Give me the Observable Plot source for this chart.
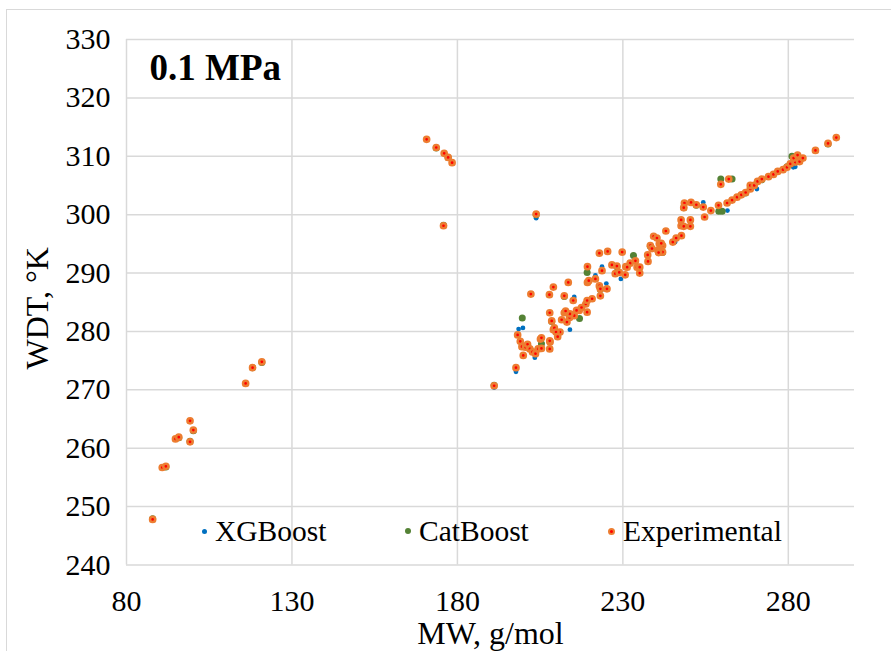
<!DOCTYPE html>
<html>
<head>
<meta charset="utf-8">
<script src="https://cdn.jsdelivr.net/npm/d3@7"></script>
<script src="https://cdn.jsdelivr.net/npm/@observablehq/plot@0.6"></script>
<style>
  body { margin: 0; background: #fff; }
  #wrap { position: relative; width: 891px; height: 651px; overflow: hidden;
          font-family: "Liberation Serif", "Times New Roman", serif; }
  #border { position: absolute; left: 6px; top: 9px; width: 900px; height: 700px;
            border: 1px solid #d9d9d9; box-sizing: border-box; }
  .legend { position: absolute; top: 511px; height: 40px; display: flex; align-items: center;
            font-size: 29.5px; color: #000; white-space: nowrap; }
  .legend .sw { display: inline-block; border-radius: 50%; margin-right: 8px; box-sizing: border-box; }
</style>
</head>
<body>
<div id="wrap"><div id="border"></div></div>
<script>
// ---- data (MW g/mol, WDT K) ----
const xTicks = [80, 130, 180, 230, 280];
const yTicks = [240, 250, 260, 270, 280, 290, 300, 310, 320, 330];
const seriesNames = ["XGBoost", "CatBoost", "Experimental"];
const seriesColors = ["#0070C0", "#548235", "#ED7D31"];
const pressureLabel = "0.1 MPa";

const experimental = [
  [87.9,247.8],[90.8,256.7],[91.9,256.9],[94.8,261.6],[95.8,261.9],[99.2,264.7],[100.2,263.1],[99.2,261.1],
  [116.0,271.1],[118.1,273.8],[120.9,274.8],
  [170.7,312.9],[173.6,311.5],[176.0,310.5],[177.2,309.8],[178.4,308.9],[175.8,298.1],
  [203.8,300.1],[191.1,270.7],[197.7,273.8],
  [198.2,279.4],[199.0,278.3],[199.5,277.4],[199.9,275.9],[200.6,277.3],[201.2,277.8],[201.9,277.0],
  [202.7,276.5],[203.6,276.2],[204.4,277.0],[205.4,277.1],[205.1,278.7],[207.9,277.0],[208.0,278.2],
  [205.4,278.9],[207.9,278.4],[211.0,279.9],
  [202.2,286.4],[207.8,286.3],[209.0,287.6],[207.9,283.2],[208.5,281.8],[209.0,280.3],[209.3,280.6],
  [209.8,279.9],[210.3,279.1],[212.3,286.1],[213.5,288.4],[215.0,285.3],[212.3,283.2],[213.1,281.6],
  [213.9,282.4],[215.3,282.7],[216.8,283.6],[218.8,284.7],[219.3,291.1],[219.3,288.4],
  [214.0,283.0],[216.0,283.6],[217.5,284.1],[211.5,282.0],[212.7,283.5],
  [219.7,288.7],[221.7,289.0],[222.9,287.8],[223.2,287.3],[225.2,287.3],[223.2,286.1],[220.7,285.6],
  [219.2,285.3],[219.2,283.3],[222.9,293.4],[225.4,293.7],[229.8,293.6],[226.7,291.4],
  [228.2,291.2],[223.7,290.4],[227.7,289.9],[228.9,290.1],[230.7,289.7],[230.9,291.1],[232.2,291.7],
  [233.8,292.1],[234.3,291.0],[235.1,290.0],[237.5,293.1],[237.6,292.0],[238.3,294.7],[239.3,296.3],
  [240.3,296.0],[241.0,295.0],[242.0,294.7],[242.0,293.6],[240.6,293.9],[243.0,297.2],[245.1,295.3],
  [246.1,296.0],[247.7,296.4],[238.8,294.2],[241.6,295.1],[240.8,293.5],[231.3,291.0],[235.1,291.0],
  [247.6,299.1],[247.6,298.1],[250.4,299.1],[250.4,298.0],[248.4,298.0],[248.6,302.0],[250.6,302.1],
  [252.2,301.7],[248.4,301.2],[254.3,301.3],[256.6,300.7],[254.7,299.6],[258.9,301.6],[261.5,302.0],
  [263.0,302.5],[264.5,303.0],[265.8,303.4],[267.1,303.8],[268.5,304.4],[268.5,305.0],[269.7,305.0],
  [270.7,305.7],[272.0,306.1],[274.0,306.5],[262.0,306.1],[259.6,305.2],
  [275.5,306.9],[276.8,307.4],[278.4,307.7],[279.6,308.1],[280.6,308.7],[282.1,309.0],[281.6,309.7],
  [283.4,309.1],[282.8,310.2],[284.4,309.7],[288.2,311.0],[292.0,312.2],[294.5,313.2]
];

const xgboost = [
  [87.9,247.8],[90.8,256.6],[94.8,261.5],[99.2,264.6],[100.2,263.0],[116.0,271.0],[118.1,273.7],
  [170.7,312.8],[176.0,310.4],[178.4,308.8],[175.8,298.0],
  [203.8,299.4],[191.1,270.4],[197.7,273.1],[198.5,280.4],[199.8,280.6],[203.4,275.5],
  [201.2,277.6],[205.4,277.0],[208.0,278.1],[209.0,287.5],[212.3,283.1],
  [214.0,280.3],[215.3,285.9],[219.3,288.3],[221.7,289.6],[223.7,291.1],[225.0,288.2],[229.4,289.0],
  [230.9,291.0],[233.8,292.0],[237.6,292.0],[240.3,295.9],[245.8,295.3],[247.6,299.0],[250.6,302.0],
  [254.3,302.1],[261.6,300.7],[264.5,302.9],[270.5,304.4],[274.0,306.4],[278.4,307.6],
  [281.5,308.1],[282.1,308.2],[284.4,309.6],[288.2,310.9],[294.5,313.1]
];

const catboost = [
  [87.9,247.9],[91.9,256.8],[95.8,261.8],[100.2,263.0],[99.2,261.2],[118.1,273.8],[120.9,274.7],
  [173.6,311.4],[177.2,309.8],[175.8,298.2],[203.8,300.0],[191.1,270.8],
  [199.6,282.3],[205.4,277.9],[208.5,281.7],[212.3,286.0],[216.9,282.2],[219.2,290.1],
  [223.2,287.2],[228.2,291.1],[233.2,293.0],[238.3,294.6],[242.0,293.5],[248.4,301.2],[252.2,301.6],
  [259.0,300.6],[260.0,300.6],[259.6,306.1],[263.0,306.1],[267.1,303.7],[272.0,306.0],
  [279.6,308.2],[281.1,310.0],[283.4,309.2],[292.0,312.1]
];

// ---- chart ----
const fontFam = "Liberation Serif, Times New Roman, serif";
const chart = Plot.plot({
  width: 891, height: 651,
  marginLeft: 126, marginRight: 37, marginTop: 39, marginBottom: 86.5,
  style: { fontFamily: fontFam, fontSize: "30px", background: "transparent", color: "#000", overflow: "visible" },
  x: { domain: [80, 300] },
  y: { domain: [240, 330] },
  marks: [
    Plot.gridX(xTicks, { stroke: "#d9d9d9", strokeOpacity: 1, strokeWidth: 1.5 }),
    Plot.gridY(yTicks, { stroke: "#d9d9d9", strokeOpacity: 1, strokeWidth: 1.5 }),
    Plot.axisX(xTicks, { tickSize: 0, tickPadding: 25, fontSize: 30, label: null, fill: "#000" }),
    Plot.axisY(yTicks, { tickSize: 0, tickPadding: 16, fontSize: 30, label: null, fill: "#000" }),
    Plot.dot(xgboost, { x: d => d[0], y: d => d[1], r: 2.4, fill: seriesColors[0], stroke: "none" }),
    Plot.dot(catboost, { x: d => d[0], y: d => d[1], r: 3.5, fill: seriesColors[1], stroke: "none" }),
    Plot.dot(experimental, { x: d => d[0], y: d => d[1], r: 2.6, fill: "#FF0000", stroke: seriesColors[2], strokeWidth: 2.5 }),
    Plot.text([pressureLabel], { frameAnchor: "top-left", textAnchor: "start", lineAnchor: "middle",
      dx: 23, dy: 29, fontSize: 37, fontWeight: "bold", fill: "#000" }),
    Plot.text(["MW, g/mol"], { frameAnchor: "bottom", textAnchor: "middle", lineAnchor: "middle", dy: 69, fontSize: 32, fill: "#000" }),
    Plot.text(["WDT, °K"], { frameAnchor: "left", textAnchor: "middle", rotate: -90, lineAnchor: "middle", dx: -89, dy: 6, fontSize: 32, fill: "#000" })
  ]
});
chart.style.position = "absolute";
chart.style.left = "0px";
chart.style.top = "0px";
const wrap = document.getElementById("wrap");
wrap.appendChild(chart);

// legend (HTML, inside plot area)
const legendLeft = [202, 405, 608];
const swatch = [
  { size: 5, bg: seriesColors[0], border: "none" },
  { size: 6, bg: seriesColors[1], border: "none" },
  { size: 7, bg: "#FF0000", border: "2px solid " + seriesColors[2] }
];
seriesNames.forEach((name, i) => {
  const item = document.createElement("div");
  item.className = "legend";
  item.style.left = legendLeft[i] + "px";
  const sw = document.createElement("span");
  sw.className = "sw";
  sw.style.width = swatch[i].size + "px";
  sw.style.height = swatch[i].size + "px";
  sw.style.background = swatch[i].bg;
  sw.style.border = swatch[i].border;
  const t = document.createElement("span");
  t.textContent = name;
  item.appendChild(sw);
  item.appendChild(t);
  wrap.appendChild(item);
});
</script>
</body>
</html>
